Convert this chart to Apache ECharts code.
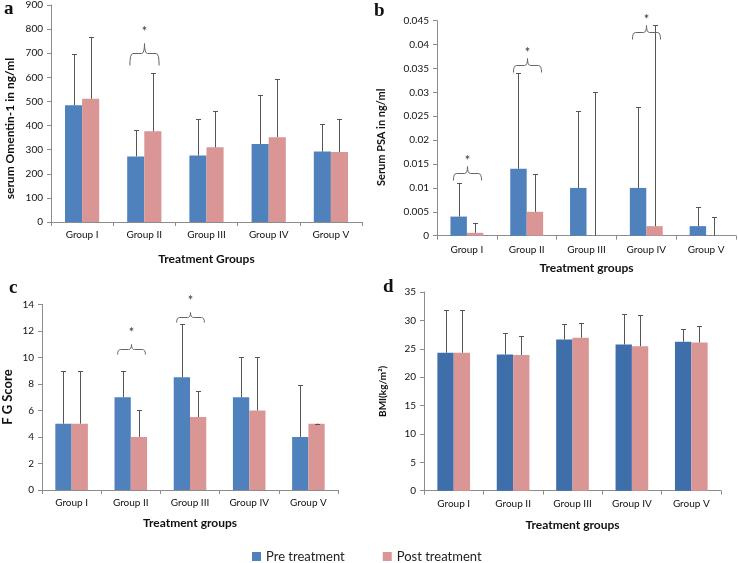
<!DOCTYPE html>
<html>
<head>
<meta charset="utf-8">
<script src="https://cdn.jsdelivr.net/npm/echarts@6/dist/echarts.min.js"></script>
<style>html,body{margin:0;padding:0;background:#fff}#c{width:738px;height:563px}</style>
</head>
<body>
<div id="c"></div>
<script>
// ---- data ----
const categories = ['Group I', 'Group II', 'Group III', 'Group IV', 'Group V'];

const omentinPre = [484, 272, 276, 323, 292];
const omentinPost = [511, 376, 310, 352, 290];
const omentinPreUpper = [695, 383, 428, 528, 408];
const omentinPostUpper = [766, 620, 459, 595, 426];
const omentinSig = [[1, 700]];

const psaPre = [0.004, 0.014, 0.010, 0.010, 0.002];
const psaPost = [0.0006, 0.005, 0, 0.002, 0];
const psaPreUpper = [0.011, 0.034, 0.026, 0.027, 0.006];
const psaPostUpper = [0.0026, 0.013, 0.030, 0.044, 0.004];
const psaSig = [[0, 0.0131], [1, 0.0357], [3, 0.0426]];

const fgPre = [5, 7, 8.5, 7, 4];
const fgPost = [5, 4, 5.5, 6, 5];
const fgPreUpper = [9, 9, 12.5, 10, 7.95];
const fgPostUpper = [9, 6, 7.5, 10, 5];
const fgSig = [[1, 10.63], [2, 13.07]];

const bmiPre = [24.3, 24.0, 26.65, 25.75, 26.25];
const bmiPost = [24.3, 23.9, 26.95, 25.45, 26.1];
const bmiPreUpper = [31.9, 27.85, 29.4, 31.2, 28.5];
const bmiPostUpper = [31.9, 27.3, 29.6, 30.9, 29.0];

const legendNames = ['Pre treatment', 'Post treatment'];

// ---- styling ----
const FONT = 'Lato, "Liberation Sans", sans-serif';
const GAP = 0.45;
const BLUE = '#4F81BD', BLUE_D = '#3F6FAA', PINK = '#D99694';
const ERR = '#555555';

const chart = echarts.init(document.getElementById('c'));

const grids = [
  {left: 51, right: 376, top: 4.5, bottom: 341},
  {left: 437, right: 2, top: 20.7, bottom: 327.3},
  {left: 40, right: 400, top: 304.3, bottom: 73},
  {left: 424, right: 17, top: 292, bottom: 72.3}
];

const xNames = ['Treatment Groups', 'Treatment groups', 'Treatment groups', 'Treatment groups'];
const xNameGaps = [31, 26, 27, 28];
const xLabelMargins = [8, 9, 8, 8];

const yCfg = [
  {max: 900, interval: 100, name: 'serum Omentin-1 in ng/ml', gap: 35, size: 12, pad: [0, 30, 0, 0]},
  {max: 0.045, interval: 0.005, name: 'Serum PSA in ng/ml', gap: 50, size: 11, pad: [0, 18, 0, 0]},
  {max: 14, interval: 2, name: 'F G Score', gap: 28, size: 13, pad: [0, 0, 0, 0]},
  {max: 35, interval: 5, name: 'BMI(kg/m²)', gap: 36, size: 10, pad: [0, 0, 0, 0]}
];

const xAxes = grids.map((g, i) => ({
  type: 'category', gridIndex: i, data: categories,
  name: xNames[i], nameLocation: 'middle', nameGap: xNameGaps[i],
  nameTextStyle: {fontFamily: FONT, fontSize: 12, fontWeight: 'bold', color: '#111'},
  axisLine: {lineStyle: {color: '#8c8c8c'}},
  axisTick: {show: true, length: 4, interval: 0, lineStyle: {color: '#8c8c8c'}},
  axisLabel: {fontFamily: FONT, fontSize: 10, color: '#111', margin: xLabelMargins[i], interval: 0}
}));

const yAxes = yCfg.map((c, i) => ({
  type: 'value', gridIndex: i, min: 0, max: c.max, interval: c.interval,
  name: c.name, nameLocation: 'middle', nameGap: c.gap, nameRotate: 90,
  nameTextStyle: {fontFamily: FONT, fontSize: c.size, fontWeight: 'bold', color: '#111', padding: c.pad},
  splitLine: {show: false},
  axisLine: {show: true, lineStyle: {color: '#8c8c8c'}},
  axisTick: {show: true, length: 4, lineStyle: {color: '#8c8c8c'}},
  axisLabel: {fontFamily: FONT, fontSize: 10, color: '#111', margin: 8,
    formatter: i === 1 ? (v => String(+v.toFixed(3))) : null}
}));

function barSeries(name, data, idx, color) {
  return {
    type: 'bar', name, data, xAxisIndex: idx, yAxisIndex: idx,
    barGap: 0, barCategoryGap: (GAP * 100) + '%',
    itemStyle: {color}, z: 2, emphasis: {disabled: true}
  };
}

function errSeries(base, upper, idx, sign) {
  return {
    type: 'custom', name: 'err' + idx + sign, xAxisIndex: idx, yAxisIndex: idx, z: 3,
    silent: true,
    encode: {x: 0, y: [1, 2]},
    data: base.map((b, i) => [i, b, upper[i]]),
    renderItem: function (params, api) {
      const i = api.value(0);
      const band = api.size([1, 0])[0];
      const bw = band * (1 - GAP) / 2;
      const pb = api.coord([i, api.value(1)]);
      const pt = api.coord([i, api.value(2)]);
      const x = Math.round(pb[0] + sign * bw / 2) + 0.5;
      const yb = pb[1], yt = Math.round(pt[1]) + 0.5;
      return {
        type: 'group', children: [
          {type: 'line', shape: {x1: x, y1: yb, x2: x, y2: yt}, style: {stroke: ERR, lineWidth: 1}},
          {type: 'line', shape: {x1: x - 2.5, y1: yt, x2: x + 2.5, y2: yt}, style: {stroke: ERR, lineWidth: 1}}
        ]
      };
    }
  };
}

function sigSeries(sig, idx, endDown, peakUp, starUp) {
  return {
    type: 'custom', name: 'sig' + idx, xAxisIndex: idx, yAxisIndex: idx, z: 4, silent: true,
    encode: {x: 0, y: 1},
    data: sig,
    renderItem: function (params, api) {
      const p = api.coord([api.value(0), api.value(1)]);
      const band = api.size([1, 0])[0];
      const half = band * 0.47 / 2;
      const cx = Math.round(p[0]) + 0.5, y = Math.round(p[1]) + 0.5;
      const x0 = cx - half, x1 = cx + half;
      const s = {stroke: '#666', lineWidth: 1, fill: null};
      const r = 3;
      return {
        type: 'group', children: [
          {type: 'bezierCurve', shape: {x1: x0, y1: y + endDown, cpx1: x0, cpy1: y, x2: x0 + r, y2: y}, style: s},
          {type: 'line', shape: {x1: x0 + r, y1: y, x2: cx - r, y2: y}, style: s},
          {type: 'bezierCurve', shape: {x1: cx - r, y1: y, cpx1: cx, cpy1: y, x2: cx, y2: y - peakUp}, style: s},
          {type: 'bezierCurve', shape: {x1: cx + r, y1: y, cpx1: cx, cpy1: y, x2: cx, y2: y - peakUp}, style: s},
          {type: 'line', shape: {x1: cx + r, y1: y, x2: x1 - r, y2: y}, style: s},
          {type: 'bezierCurve', shape: {x1: x1, y1: y + endDown, cpx1: x1, cpy1: y, x2: x1 - r, y2: y}, style: s},
          {type: 'text', x: cx, y: y - peakUp - starUp,
           style: {text: '*', fontSize: 13, fontFamily: FONT, fill: '#333', align: 'center', verticalAlign: 'middle'}}
        ]
      };
    }
  };
}

const series = [
  barSeries(legendNames[0], omentinPre, 0, BLUE),
  barSeries(legendNames[1], omentinPost, 0, PINK),
  errSeries(omentinPre, omentinPreUpper, 0, -1),
  errSeries(omentinPost, omentinPostUpper, 0, 1),
  sigSeries(omentinSig, 0, 12, 10, 12),

  barSeries(legendNames[0], psaPre, 1, BLUE),
  barSeries(legendNames[1], psaPost, 1, PINK),
  errSeries(psaPre, psaPreUpper, 1, -1),
  errSeries(psaPost, psaPostUpper, 1, 1),
  sigSeries(psaSig, 1, 7, 7, 6),

  barSeries(legendNames[0], fgPre, 2, BLUE),
  barSeries(legendNames[1], fgPost, 2, PINK),
  errSeries(fgPre, fgPreUpper, 2, -1),
  errSeries(fgPost, fgPostUpper, 2, 1),
  sigSeries(fgSig, 2, 5, 5, 12),

  barSeries(legendNames[0], bmiPre, 3, BLUE_D),
  barSeries(legendNames[1], bmiPost, 3, PINK),
  errSeries(bmiPre, bmiPreUpper, 3, -1),
  errSeries(bmiPost, bmiPostUpper, 3, 1)
];

const letterStyle = {fontFamily: '"Liberation Serif", "DejaVu Serif", serif', fontSize: 19, fontWeight: 'bold', fill: '#111'};

chart.setOption({
  animation: false,
  backgroundColor: '#fff',
  grid: grids,
  xAxis: xAxes,
  yAxis: yAxes,
  series,
  legend: {
    data: legendNames, left: 247, top: 545, itemWidth: 9, itemHeight: 9, itemGap: 38,
    icon: 'rect', selectedMode: false,
    textStyle: {fontFamily: FONT, fontSize: 13, color: '#222'}
  },
  graphic: [
    {type: 'text', left: 4, top: 0, style: Object.assign({text: 'a'}, letterStyle)},
    {type: 'text', left: 374, top: 2, style: Object.assign({text: 'b'}, letterStyle)},
    {type: 'text', left: 9, top: 279, style: Object.assign({text: 'c'}, letterStyle)},
    {type: 'text', left: 383, top: 278, style: Object.assign({text: 'd'}, letterStyle)}
  ]
});
</script>
</body>
</html>
